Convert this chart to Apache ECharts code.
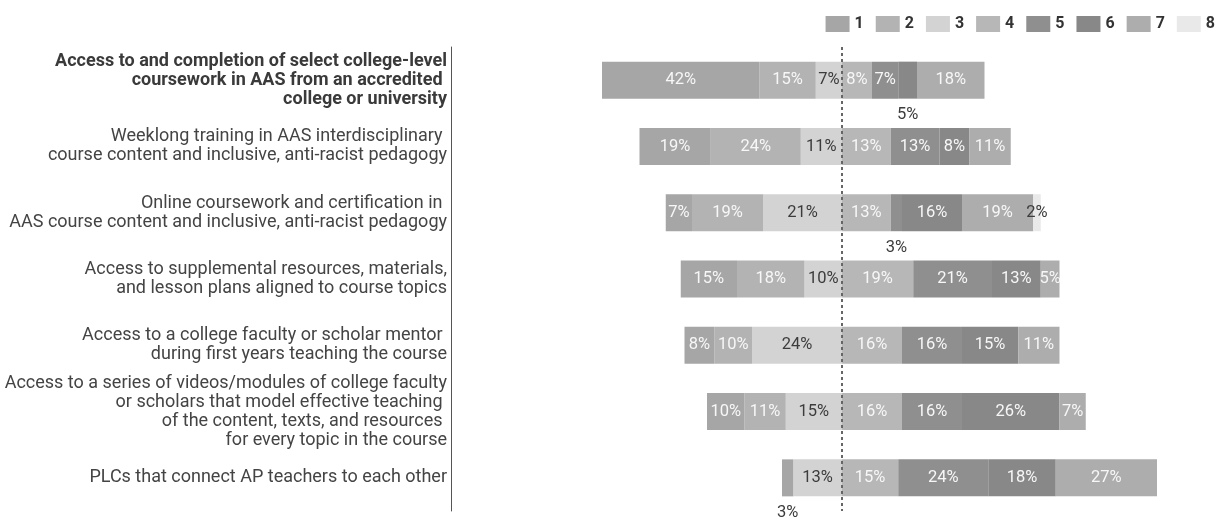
<!DOCTYPE html>
<html>
<head>
<meta charset="utf-8">
<title>Teacher support preferences</title>
<script src="https://cdn.jsdelivr.net/npm/echarts@6/dist/echarts.min.js"></script>
<style>
  html, body { margin: 0; padding: 0; background: #ffffff; }
  #chart { width: 1221px; height: 523px; }
</style>
</head>
<body>
<div id="chart"></div>
<script>
// Support options (rows, top to bottom)
const categories = [
  'Access to and completion of select college-level\ncoursework in AAS from an accredited \ncollege or university',
  'Weeklong training in AAS interdisciplinary \ncourse content and inclusive, anti-racist pedagogy',
  'Online coursework and certification in \nAAS course content and inclusive, anti-racist pedagogy',
  'Access to supplemental resources, materials,\nand lesson plans aligned to course topics',
  'Access to a college faculty or scholar mentor \nduring first years teaching the course',
  'Access to a series of videos/modules of college faculty\nor scholars that model effective teaching \nof the content, texts, and resources \nfor every topic in the course',
  'PLCs that connect AP teachers to each other'
];

// Rating levels shown in the legend
const levels = ['1', '2', '3', '4', '5', '6', '7', '8'];

// Share of respondents (%) for each rating level, per row
const r1 = [42, 19, 7, 15, 8, 10, 3];
const r2 = [15, 24, 19, 18, 10, 11, 0];
const r3 = [7, 11, 21, 10, 24, 15, 13];
const r4 = [8, 13, 13, 19, 16, 16, 15];
const r5 = [7, 13, 3, 21, 16, 16, 24];
const r6 = [5, 8, 16, 13, 15, 26, 18];
const r7 = [18, 11, 19, 5, 11, 7, 27];
const r8 = [0, 0, 2, 0, 0, 0, 0];

const levelValues = [r1, r2, r3, r4, r5, r6, r7, r8];

// Levels 1-3 sit left of the dotted zero line, levels 4-8 to the right
const negativeLevels = 3;

const levelColors = ['#a6a6a6', '#b3b3b3', '#d3d3d3', '#b7b7b7', '#8f8f8f', '#888888', '#adadad', '#e9e9e9'];
const darkText = '#3c3c3c';
const lightText = '#f7f7f7';

// Small segments whose value label hangs below the bar: [level index, row index]
const belowLabels = [[5, 0], [4, 2], [0, 6]];

function buildSeries(levelIdx) {
  const sign = levelIdx < negativeLevels ? -1 : 1;
  const labelColor = (levelIdx === 2 || levelIdx === 7) ? darkText : lightText;
  const data = levelValues[levelIdx].map((v, row) => {
    const item = { value: v === 0 ? null : sign * v };
    const moved = belowLabels.some(p => p[0] === levelIdx && p[1] === row);
    if (moved) {
      item.label = { position: 'bottom', distance: 8, color: darkText };
    }
    return item;
  });
  return {
    name: levels[levelIdx],
    type: 'bar',
    stack: 'total',
    barWidth: 37,
    itemStyle: { color: levelColors[levelIdx] },
    label: {
      show: true,
      position: 'inside',
      color: labelColor,
      fontFamily: 'Roboto',
      fontSize: 16.5,
      formatter: p => (p.value == null ? '' : Math.abs(p.value) + '%')
    },
    emphasis: { disabled: true },
    data: data
  };
}

// Negative levels are stacked from the zero line outward (3, 2, 1)
const order = [2, 1, 0, 3, 4, 5, 6, 7];
const series = order.map(buildSeries);

// Dotted zero line
series[0].markLine = {
  silent: true,
  symbol: 'none',
  label: { show: false },
  lineStyle: { type: [3, 3], color: '#666666', width: 2 },
  data: [{ xAxis: 0 }]
};

const chart = echarts.init(document.getElementById('chart'), null, { renderer: 'canvas' });

chart.setOption({
  backgroundColor: '#ffffff',
  animation: false,
  textStyle: { fontFamily: 'Roboto' },
  legend: {
    data: levels,
    right: 1,
    top: 11,
    itemWidth: 24,
    itemHeight: 16,
    itemGap: 12,
    icon: 'rect',
    selectedMode: false,
    textStyle: { fontFamily: 'Roboto', fontSize: 16, fontWeight: 'bold', color: '#333333' }
  },
  grid: { left: 467, right: 4, top: 47, bottom: 12, containLabel: false },
  xAxis: {
    type: 'value',
    min: -100,
    max: 100,
    show: false
  },
  yAxis: {
    type: 'category',
    inverse: true,
    offset: 16,
    data: categories.map((c, i) => i === 0
      ? { value: c, textStyle: { fontWeight: 'bold', color: '#3a3a3a' } }
      : c),
    axisLine: { show: true, onZero: false, lineStyle: { color: '#555555', width: 1 } },
    axisTick: { show: false },
    axisLabel: {
      margin: 4,
      fontFamily: 'Roboto',
      fontSize: 18,
      lineHeight: 19,
      color: '#444444',
      align: 'right'
    },
    splitLine: { show: false }
  },
  series: series
});
</script>
</body>
</html>
